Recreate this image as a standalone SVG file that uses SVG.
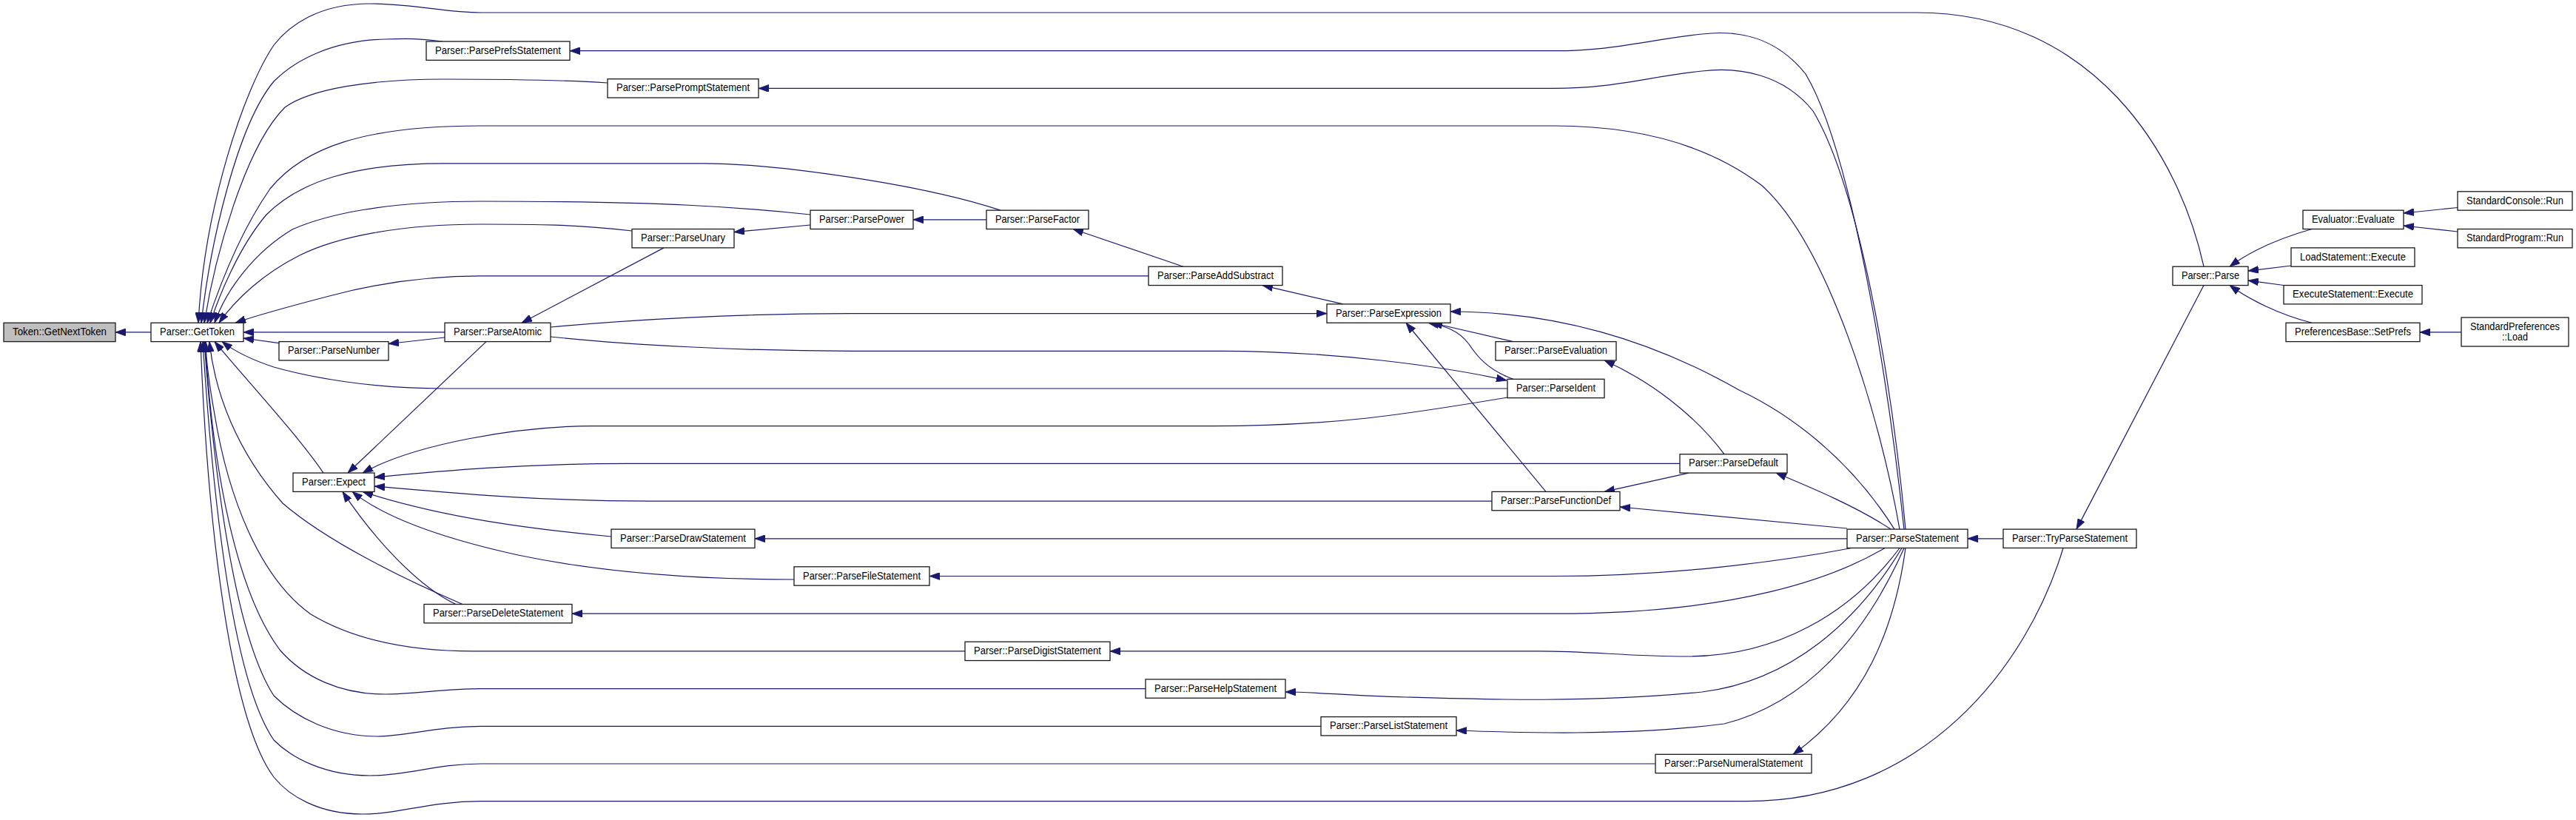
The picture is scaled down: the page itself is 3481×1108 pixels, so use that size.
<svg xmlns="http://www.w3.org/2000/svg" width="3481" height="1108" viewBox="0 0 3481 1108">
<style>
.bg{fill:#ffffff}
.n rect{fill:#ffffff;stroke:#1a1a1a;stroke-width:1.3}
.n.root rect{fill:#bfbfbf}
.n text{font-family:"Liberation Sans",Arial,Helvetica,sans-serif;font-size:14px;fill:#000000;text-anchor:middle}
.e path{fill:none;stroke:#191970;stroke-width:1.2;marker-end:url(#ah)}
</style>
<defs>
<marker id="ah" viewBox="0 0 14 10" refX="14" refY="5" markerWidth="14" markerHeight="10" markerUnits="userSpaceOnUse" orient="auto">
<path d="M0,0 L14,5 L0,10 z" fill="#191970" stroke="#191970" stroke-width="0.8"/>
</marker>
</defs>
<rect class="bg" x="0" y="0" width="3481" height="1108"/>
<g id="edges" class="e">
<path d="M204,448.9 L156,448.9"/>
<path d="M2978,360.2 C2945,210 2830,17 2590,17 L650,17 C600,17 560,5 500,5 C430,5 390,35 370,61 C330,120 276,280 268,436.25"/>
<path d="M598,56 C570,52 550,52 520,53 C450,55 400,80 370,110 C320,170 284,330 272,436.25"/>
<path d="M821,112 C760,108 700,107 600,107 C500,107 420,120 385,145 C330,200 290,350 276,436.25"/>
<path d="M2567,715.1 C2540,560 2470,330 2380,250 C2300,190 2200,170 2100,170 L650,170 C490,170 410,200 365,255 C320,320 292,400 280,436.25"/>
<path d="M1352,284.15 C1250,250 1050,220.8 950,220.8 L600,220.8 C480,220.8 405,245 360,290 C322,335 296,400 284,436.25"/>
<path d="M1095,290 C1000,280 900,272 650,272 C520,272 440,290 395,310 C345,340 306,390 290,436.25"/>
<path d="M854,312 C780,303 720,303 650,303 C540,303 455,320 405,345 C355,370 318,405 296,436.25"/>
<path d="M1552,372.9 L650,372.9 C560,372.9 490,388 445,400 C395,413 350,425 318,436.25"/>
<path d="M601,448.9 L329,448.9"/>
<path d="M377,463.6 L329,457"/>
<path d="M601,456 L525,464.5"/>
<path d="M2037,525 L600,525 C500,525 420,510 370,496 C340,486 316,474 300,461.6"/>
<path d="M437,639.05 C400,585 330,510 290,461.6"/>
<path d="M625,816.5 C540,780 440,730 382,680 C320,610 290,530 283,461.6"/>
<path d="M1304,879.9 L640,879.9 C540,879.9 470,860 420,830 C350,780 308,670 290,560 C282,515 278,480 278,461.6"/>
<path d="M1548,930.6 L650,930.6 C600,930.6 560,938 520,938 C460,938 410,915 378,878 C320,800 288,640 277,461.6"/>
<path d="M1785,981.3 L650,981.3 C590,981.3 550,995 510,995 C450,995 400,970 370,940 C318,860 290,650 276,461.6"/>
<path d="M2237,1032 L650,1032 C590,1032 550,1048 500,1048 C440,1048 395,1025 370,1000 C315,920 288,680 274,461.6"/>
<path d="M2788,740.5 C2740,900 2600,1082.7 2360,1082.7 L650,1082.7 C580,1082.7 540,1100 490,1100 C430,1100 390,1075 370,1050 C310,970 280,700 271,461.6"/>
<path d="M657,461.6 L470,639.05"/>
<path d="M2037,537 C1900,560 1800,575.7 1640,575.7 L800,575.7 C700,575.7 560,600 490,639.05"/>
<path d="M2270,626.4 L850,626.4 C700,626.4 600,636 506,645"/>
<path d="M2016,677.1 L880,677.1 C720,677.1 600,665 506,657"/>
<path d="M826,725 C720,715 600,700 490,664.4"/>
<path d="M1073,783 C950,783 820,775 700,750 C600,728 520,700 476,664.4"/>
<path d="M616,816.5 C560,790 500,720 463,664.4"/>
<path d="M2573,715.1 C2550,500 2500,200 2440,100 C2400,50 2350,40 2300,46 C2220,55 2180,68.7 2100,68.7 L770,68.7"/>
<path d="M2575,715.1 C2555,500 2510,250 2450,150 C2410,100 2350,90 2300,96 C2220,105 2180,119.4 2100,119.4 L1025,119.4"/>
<path d="M2560,715.1 C2500,620 2420,560 2350,527 C2250,470 2120,421 1960,421"/>
<path d="M2555,715.1 C2510,685 2450,660 2400,639.05"/>
<path d="M2496,714 L2189,685"/>
<path d="M2496,727.8 L1020,727.8"/>
<path d="M2502,740.5 C2400,760 2250,778.5 2100,778.5 L1256,778.5"/>
<path d="M2547,740.5 C2480,780 2350,829.2 2100,829.2 L773,829.2"/>
<path d="M2567,740.5 C2500,830 2400,887 2280,887 C2200,887 2150,879.9 2080,879.9 L1500,879.9"/>
<path d="M2570,740.5 C2510,840 2420,920 2300,935 C2150,950 2000,945 1900,942 C1820,940 1780,935 1737,935"/>
<path d="M2573,740.5 C2520,860 2440,950 2330,978 C2200,995 2050,990 1968,987"/>
<path d="M2575,740.5 C2560,850 2520,950 2423,1019.3"/>
<path d="M2707,727.8 L2659,727.8"/>
<path d="M2978,385.5 L2806,715.1"/>
<path d="M3124,309.5 C3080,322 3040,340 3013,360.2"/>
<path d="M3096,359 L3038,366"/>
<path d="M3086,385.5 L3038,379"/>
<path d="M3124,436.25 C3080,425 3040,405 3013,385.5"/>
<path d="M3321,280.5 L3248,288"/>
<path d="M3321,313 L3248,305"/>
<path d="M3326,448.9 L3270,448.9"/>
<path d="M1333,296.8 L1234,296.8"/>
<path d="M1095,304 L992,313.6"/>
<path d="M897,334.85 L705,436.25"/>
<path d="M1599,360.2 L1450,309.5"/>
<path d="M1815,410.9 L1706,385.55"/>
<path d="M744,442 C850,432 1000,423.6 1150,423.6 L1793,423.6"/>
<path d="M744,455 C850,466 1000,474.3 1150,474.3 L1650,474.3 C1800,474.3 1950,495 2036,514"/>
<path d="M2045,461.6 L1935,436.25"/>
<path d="M2045,512.3 C2010,500 1995,480 1985,465 C1970,445 1950,440 1930,436.25"/>
<path d="M2089,664.4 L1900,436.25"/>
<path d="M2330,613.7 C2290,560 2230,515 2168,486.95"/>
<path d="M2282,639.05 L2168,664.4"/>
</g>
<g id="n_getnexttoken" class="n root"><rect x="5" y="436.25" width="151" height="25.35"/><text x="80.5" y="452.9" textLength="127" lengthAdjust="spacingAndGlyphs">Token::GetNextToken</text></g>
<g id="n_gettoken" class="n"><rect x="204" y="436.25" width="125" height="25.35"/><text x="266.5" y="452.9" textLength="101" lengthAdjust="spacingAndGlyphs">Parser::GetToken</text></g>
<g id="n_prefs" class="n"><rect x="576" y="56" width="194" height="25.35"/><text x="673" y="72.7" textLength="170" lengthAdjust="spacingAndGlyphs">Parser::ParsePrefsStatement</text></g>
<g id="n_prompt" class="n"><rect x="821" y="106.7" width="204" height="25.35"/><text x="923" y="123.4" textLength="180" lengthAdjust="spacingAndGlyphs">Parser::ParsePromptStatement</text></g>
<g id="n_factor" class="n"><rect x="1333" y="284.15" width="138" height="25.35"/><text x="1402" y="300.9" textLength="114" lengthAdjust="spacingAndGlyphs">Parser::ParseFactor</text></g>
<g id="n_power" class="n"><rect x="1095" y="284.15" width="139" height="25.35"/><text x="1164.5" y="300.9" textLength="115" lengthAdjust="spacingAndGlyphs">Parser::ParsePower</text></g>
<g id="n_unary" class="n"><rect x="854" y="309.5" width="138" height="25.35"/><text x="923" y="326.2" textLength="114" lengthAdjust="spacingAndGlyphs">Parser::ParseUnary</text></g>
<g id="n_addsub" class="n"><rect x="1552" y="360.2" width="181" height="25.35"/><text x="1642.5" y="376.9" textLength="157" lengthAdjust="spacingAndGlyphs">Parser::ParseAddSubstract</text></g>
<g id="n_expr" class="n"><rect x="1793" y="410.9" width="167" height="25.35"/><text x="1876.5" y="427.6" textLength="143" lengthAdjust="spacingAndGlyphs">Parser::ParseExpression</text></g>
<g id="n_atomic" class="n"><rect x="601" y="436.25" width="143" height="25.35"/><text x="672.5" y="452.9" textLength="119" lengthAdjust="spacingAndGlyphs">Parser::ParseAtomic</text></g>
<g id="n_number" class="n"><rect x="377" y="461.6" width="148" height="25.35"/><text x="451" y="478.3" textLength="124" lengthAdjust="spacingAndGlyphs">Parser::ParseNumber</text></g>
<g id="n_evaluation" class="n"><rect x="2021" y="461.6" width="163" height="25.35"/><text x="2102.5" y="478.3" textLength="139" lengthAdjust="spacingAndGlyphs">Parser::ParseEvaluation</text></g>
<g id="n_ident" class="n"><rect x="2037" y="512.3" width="131" height="25.35"/><text x="2102.5" y="529" textLength="107" lengthAdjust="spacingAndGlyphs">Parser::ParseIdent</text></g>
<g id="n_default" class="n"><rect x="2270" y="613.7" width="145" height="25.35"/><text x="2342.5" y="630.4" textLength="121" lengthAdjust="spacingAndGlyphs">Parser::ParseDefault</text></g>
<g id="n_expect" class="n"><rect x="396" y="639.05" width="110" height="25.35"/><text x="451" y="655.7" textLength="86" lengthAdjust="spacingAndGlyphs">Parser::Expect</text></g>
<g id="n_funcdef" class="n"><rect x="2016" y="664.4" width="173" height="25.35"/><text x="2102.5" y="681.1" textLength="149" lengthAdjust="spacingAndGlyphs">Parser::ParseFunctionDef</text></g>
<g id="n_draw" class="n"><rect x="826" y="715.1" width="194" height="25.35"/><text x="923" y="731.8" textLength="170" lengthAdjust="spacingAndGlyphs">Parser::ParseDrawStatement</text></g>
<g id="n_statement" class="n"><rect x="2496" y="715.1" width="163" height="25.35"/><text x="2577.5" y="731.8" textLength="139" lengthAdjust="spacingAndGlyphs">Parser::ParseStatement</text></g>
<g id="n_tryparse" class="n"><rect x="2707" y="715.1" width="180" height="25.35"/><text x="2797" y="731.8" textLength="156" lengthAdjust="spacingAndGlyphs">Parser::TryParseStatement</text></g>
<g id="n_file" class="n"><rect x="1073" y="765.8" width="183" height="25.35"/><text x="1164.5" y="782.5" textLength="159" lengthAdjust="spacingAndGlyphs">Parser::ParseFileStatement</text></g>
<g id="n_delete" class="n"><rect x="573" y="816.5" width="200" height="25.35"/><text x="673" y="833.2" textLength="176" lengthAdjust="spacingAndGlyphs">Parser::ParseDeleteStatement</text></g>
<g id="n_digist" class="n"><rect x="1304" y="867.2" width="196" height="25.35"/><text x="1402" y="883.9" textLength="172" lengthAdjust="spacingAndGlyphs">Parser::ParseDigistStatement</text></g>
<g id="n_help" class="n"><rect x="1548" y="917.9" width="189" height="25.35"/><text x="1642.5" y="934.6" textLength="165" lengthAdjust="spacingAndGlyphs">Parser::ParseHelpStatement</text></g>
<g id="n_list" class="n"><rect x="1785" y="968.6" width="183" height="25.35"/><text x="1876.5" y="985.3" textLength="159" lengthAdjust="spacingAndGlyphs">Parser::ParseListStatement</text></g>
<g id="n_numeral" class="n"><rect x="2237" y="1019.3" width="211" height="25.35"/><text x="2342.5" y="1036" textLength="187" lengthAdjust="spacingAndGlyphs">Parser::ParseNumeralStatement</text></g>
<g id="n_parse" class="n"><rect x="2936" y="360.2" width="102" height="25.35"/><text x="2987" y="376.9" textLength="78" lengthAdjust="spacingAndGlyphs">Parser::Parse</text></g>
<g id="n_evaluate" class="n"><rect x="3112" y="284.15" width="136" height="25.35"/><text x="3180" y="300.9" textLength="112" lengthAdjust="spacingAndGlyphs">Evaluator::Evaluate</text></g>
<g id="n_console" class="n"><rect x="3321" y="258.8" width="155" height="25.35"/><text x="3398.5" y="275.5" textLength="131" lengthAdjust="spacingAndGlyphs">StandardConsole::Run</text></g>
<g id="n_program" class="n"><rect x="3321" y="309.5" width="155" height="25.35"/><text x="3398.5" y="326.2" textLength="131" lengthAdjust="spacingAndGlyphs">StandardProgram::Run</text></g>
<g id="n_loadstmt" class="n"><rect x="3096" y="334.85" width="167" height="25.35"/><text x="3179.5" y="351.6" textLength="143" lengthAdjust="spacingAndGlyphs">LoadStatement::Execute</text></g>
<g id="n_execstmt" class="n"><rect x="3086" y="385.55" width="187" height="25.35"/><text x="3179.5" y="402.2" textLength="163" lengthAdjust="spacingAndGlyphs">ExecuteStatement::Execute</text></g>
<g id="n_setprefs" class="n"><rect x="3089" y="436.25" width="181" height="25.35"/><text x="3179.5" y="452.9" textLength="157" lengthAdjust="spacingAndGlyphs">PreferencesBase::SetPrefs</text></g>
<g id="n_stdprefs" class="n"><rect x="3326" y="429" width="145" height="39"/><text x="3398.5" y="445.5" textLength="121" lengthAdjust="spacingAndGlyphs">StandardPreferences</text><text x="3398.5" y="459.5" textLength="35" lengthAdjust="spacingAndGlyphs">::Load</text></g>
</svg>
